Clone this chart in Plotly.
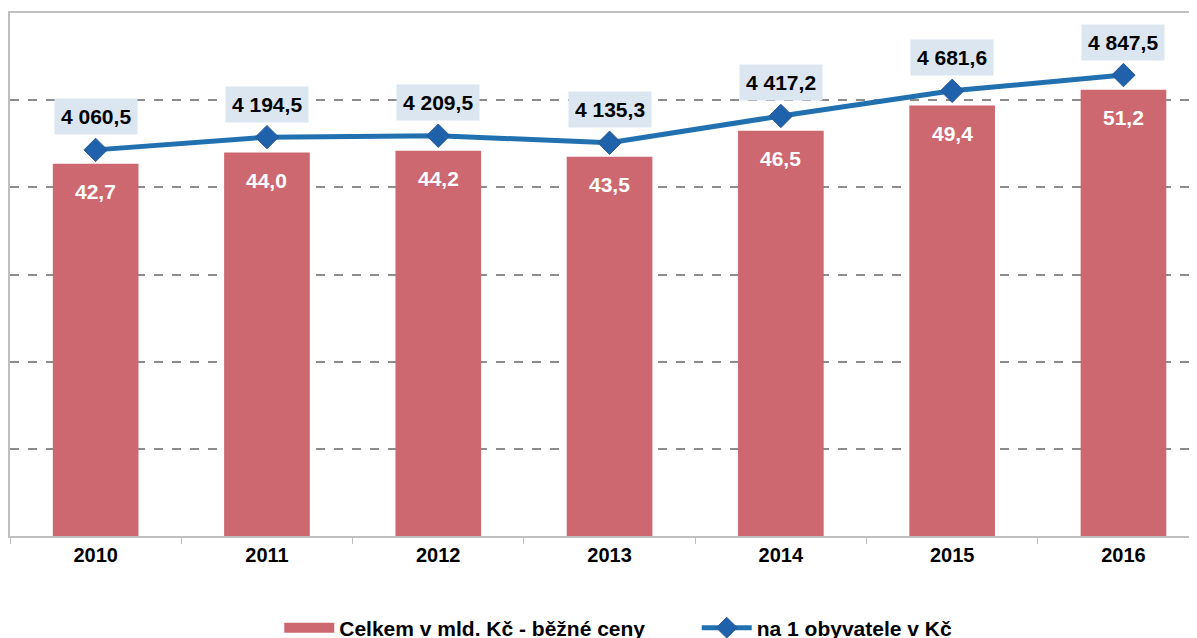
import plotly.graph_objects as go

years = ["2010", "2011", "2012", "2013", "2014", "2015", "2016"]
total_bn = [42.7, 44.0, 44.2, 43.5, 46.5, 49.4, 51.2]
per_capita = [4060.5, 4194.5, 4209.5, 4135.3, 4417.2, 4681.6, 4847.5]

bar_name = "Celkem v mld. Kč - běžné ceny"
line_name = "na 1 obyvatele v Kč"

FONT = "Liberation Sans, Arial"
BAR_COLOR = "#CD6870"
GAP = "\u00a0" * 8


def cz(v, decimals=1):
    s = f"{v:,.{decimals}f}"
    return s.replace(",", " ").replace(".", ",")


fig = go.Figure()
fig.add_trace(go.Bar(
    x=years, y=total_bn, showlegend=False,
    marker=dict(color=BAR_COLOR, line=dict(width=0)),
))
# legend entry for bars drawn as a wide swatch like the original
fig.add_trace(go.Scatter(
    x=[None], y=[None], mode="lines", name=f"<b>{bar_name}</b>{GAP}",
    line=dict(color=BAR_COLOR, width=13),
))
fig.add_trace(go.Scatter(
    x=years, y=per_capita, name=f"<b>{line_name}</b>", yaxis="y2",
    mode="lines+markers",
    line=dict(color="#2170B0", width=5),
    marker=dict(symbol="diamond", size=18, color="#1F62AB",
                line=dict(color="#2A5A95", width=1)),
))

# bar value labels (white, inside near top)
for i, v in enumerate(total_bn):
    fig.add_annotation(
        x=i, y=v, xref="x", yref="y", text=f"<b>{cz(v)}</b>",
        showarrow=False, yshift=-28,
        font=dict(family=FONT, size=21, color="white"),
    )

# line value labels (boxed, above markers)
for i, v in enumerate(per_capita):
    fig.add_annotation(
        x=i, y=v, xref="x", yref="y2", text=f"<b>{cz(v)}</b>",
        showarrow=False, yshift=33,
        bgcolor="#DCE6F1", borderpad=6,
        font=dict(family=FONT, size=21, color="black"),
    )

fig.update_layout(
    width=1197, height=638,
    paper_bgcolor="white", plot_bgcolor="white",
    margin=dict(l=2, r=0, t=5, b=110, autoexpand=False),
    font=dict(family=FONT, color="black"),
    bargap=0.5,
    showlegend=True,
    legend=dict(
        orientation="h", x=0.509, xanchor="center", y=-0.176, yanchor="middle",
        font=dict(size=21, family=FONT),
        itemwidth=50,
    ),
    xaxis=dict(
        type="category", range=[-0.5, 6.476],
        tickvals=years, ticktext=[f"<b>{y}</b>" for y in years],
        showline=True, linecolor="#BFBFBF", linewidth=2, mirror=True,
        ticks="outside", tickson="boundaries", ticklen=6, tickcolor="#BFBFBF",
        tickfont=dict(size=20), showgrid=False,
    ),
    yaxis=dict(
        range=[0, 60], tickvals=[10, 20, 30, 40, 50],
        showticklabels=False, showgrid=True, gridcolor="#8C8C8C",
        griddash="dash", gridwidth=1.5, zeroline=False,
        showline=True, linecolor="#BFBFBF", linewidth=2,
    ),
    yaxis2=dict(
        range=[0, 5500], overlaying="y", side="right",
        visible=False, showgrid=False,
    ),
)

fig.write_html("out.html")
